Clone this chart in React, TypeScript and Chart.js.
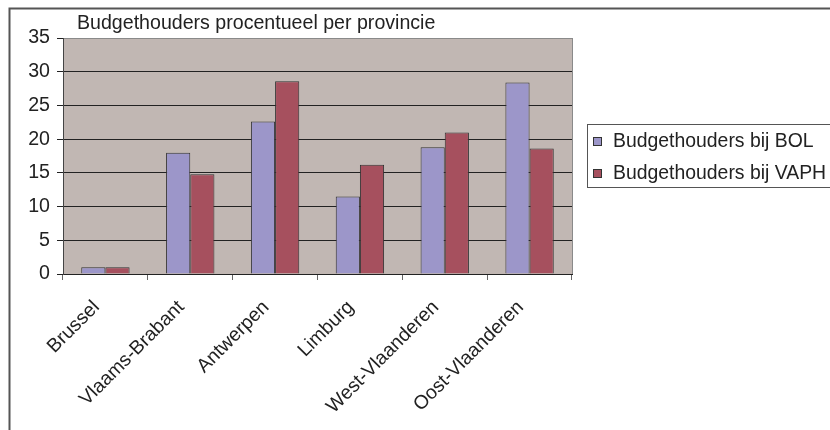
import React, { useEffect, useRef } from "react";
import { Chart, registerables } from "chart.js";

Chart.register(...registerables);

const categories = ["Brussel", "Vlaams-Brabant", "Antwerpen", "Limburg", "West-Vlaanderen", "Oost-Vlaanderen"];
const bolValues = [1.0, 18.0, 22.6, 11.5, 18.8, 28.4];
const vaphValues = [1.0, 14.8, 28.6, 16.2, 21.0, 18.6];
const seriesNames = ["Budgethouders bij BOL", "Budgethouders bij VAPH"];
const titleText = "Budgethouders procentueel per provincie";
const yTicks = [0, 5, 10, 15, 20, 25, 30, 35];

const BOL_COLOR = "#9C96C9";
const VAPH_COLOR = "#A6505E";
const PLOT_BG = "#C1B7B3";
const FONT = "'Liberation Sans', Arial, sans-serif";

const decorPlugin = {
  id: "decor",
  beforeDraw(chart: any) {
    const { ctx, chartArea } = chart;
    ctx.save();
    ctx.fillStyle = "#ffffff";
    ctx.fillRect(0, 0, chart.width, chart.height);
    ctx.fillStyle = PLOT_BG;
    ctx.fillRect(chartArea.left, chartArea.top, chartArea.right - chartArea.left, chartArea.bottom - chartArea.top);
    ctx.restore();
  },
  afterDraw(chart: any) {
    const { ctx, chartArea } = chart;
    ctx.save();
    // outer border
    ctx.strokeStyle = "#555555";
    ctx.lineWidth = 2;
    ctx.beginPath();
    ctx.moveTo(9.5, 430);
    ctx.lineTo(9.5, 8.5);
    ctx.lineTo(830, 8.5);
    ctx.stroke();
    // plot right border
    ctx.strokeStyle = "#8a8a8a";
    ctx.lineWidth = 1;
    ctx.beginPath();
    ctx.moveTo(chartArea.right + 0.5, chartArea.top);
    ctx.lineTo(chartArea.right + 0.5, chartArea.bottom);
    ctx.stroke();
    // title
    ctx.fillStyle = "#222222";
    ctx.font = `19.6px ${FONT}`;
    ctx.textAlign = "left";
    ctx.textBaseline = "alphabetic";
    ctx.fillText(titleText, chartArea.left + 14, 29);
    // legend
    const lx = 587, ly = 124, lw = 250, lh = 63;
    ctx.strokeStyle = "#555555";
    ctx.lineWidth = 1;
    ctx.strokeRect(lx + 0.5, ly + 0.5, lw, lh);
    const colors = [BOL_COLOR, VAPH_COLOR];
    const rows = [141, 173];
    for (let i = 0; i < seriesNames.length; i++) {
      const cy = rows[i];
      ctx.fillStyle = colors[i];
      ctx.fillRect(593, cy - 4, 8, 8);
      ctx.strokeStyle = "#333333";
      ctx.strokeRect(593.5, cy - 3.5, 8, 8);
      ctx.fillStyle = "#222222";
      ctx.font = `19.4px ${FONT}`;
      ctx.textBaseline = "middle";
      ctx.fillText(seriesNames[i], 613, cy + 1);
    }
    ctx.restore();
  },
};

export default function App() {
  const ref = useRef<HTMLCanvasElement>(null);
  useEffect(() => {
    if (!ref.current) return;
    const chart = new Chart(ref.current, {
      type: "bar",
      data: {
        labels: categories,
        datasets: [
          {
            label: seriesNames[0],
            data: bolValues,
            backgroundColor: BOL_COLOR,
            borderColor: "#333333",
            borderWidth: 1,
            categoryPercentage: 0.57,
            barPercentage: 1.0,
          },
          {
            label: seriesNames[1],
            data: vaphValues,
            backgroundColor: VAPH_COLOR,
            borderColor: "#333333",
            borderWidth: 1,
            categoryPercentage: 0.57,
            barPercentage: 1.0,
          },
        ],
      },
      options: {
        responsive: false,
        animation: false,
        devicePixelRatio: 1,
        layout: { padding: { left: 0, top: 38, right: 258, bottom: 0 } },
        plugins: {
          legend: { display: false },
          title: { display: false },
          tooltip: { enabled: false },
        },
        scales: {
          x: {
            offset: true,
            grid: {
              offset: true,
              drawOnChartArea: false,
              drawTicks: true,
              tickLength: 6,
              color: "#666666",
            },
            border: { display: true, color: "#222222", width: 1 },
            ticks: {
              maxRotation: 45,
              minRotation: 45,
              autoSkip: false,
              padding: 16,
              labelOffset: -9,
              color: "#222222",
              font: { family: FONT, size: 19.4 },
            },
            afterFit(scale: any) {
              scale.height = 156;
            },
          },
          y: {
            min: 0,
            max: 35,
            afterBuildTicks(scale: any) {
              scale.ticks = yTicks.map((v) => ({ value: v }));
            },
            grid: {
              color: (c: any) => (c.tick && c.tick.value === 35 ? "#8a8a8a" : "#222222"),
              tickColor: "#222222",
              tickLength: 6,
              lineWidth: 1,
            },
            border: { display: true, color: "#444444", width: 1 },
            ticks: {
              padding: 7,
              color: "#222222",
              font: { family: FONT, size: 19.6 },
            },
            afterFit(scale: any) {
              scale.width = 63;
            },
          },
        },
      },
      plugins: [decorPlugin],
    });
    return () => chart.destroy();
  }, []);
  return (
    <div style={{ position: "absolute", left: 0, top: 0, width: 830, height: 430 }}>
      <canvas ref={ref} width={830} height={430} style={{ width: 830, height: 430, display: "block" }} />
    </div>
  );
}
